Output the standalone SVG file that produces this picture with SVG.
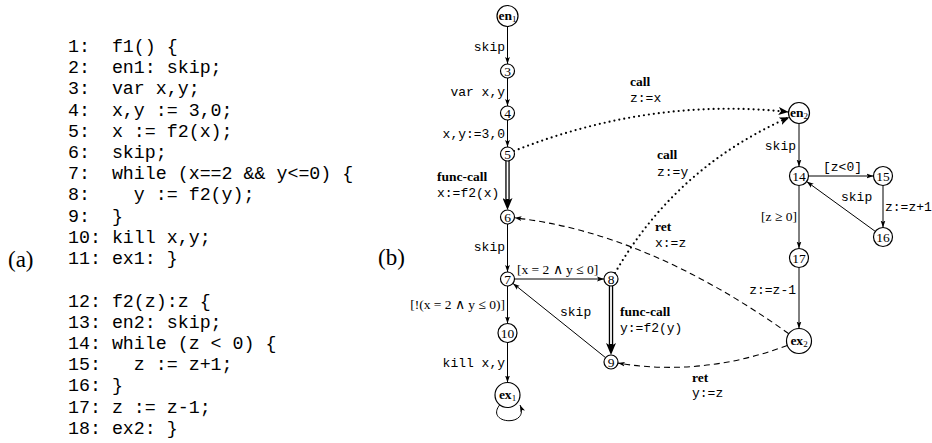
<svg xmlns="http://www.w3.org/2000/svg" width="932" height="443" viewBox="0 0 932 443">
<style>
.code{font-family:"Liberation Mono",monospace;font-size:18.3px;fill:#000;white-space:pre}
.cap{font-family:"Liberation Serif",serif;font-size:23px;fill:#000}
.nd{fill:#fff;stroke:#000;stroke-width:1.2}
.nt{font-family:"Liberation Serif",serif;font-size:13.5px;text-anchor:middle;fill:#000}
.nb{font-weight:bold}
.sub{font-size:9px;font-weight:normal}
.e{fill:none;stroke:#000;stroke-width:1}
.dbl{fill:none;stroke:#000;stroke-width:4.4}
.dblw{fill:none;stroke:#fff;stroke-width:1.8}
.dash{fill:none;stroke:#000;stroke-width:1.1;stroke-dasharray:6 4}
.dot{fill:none;stroke:#000;stroke-width:2.2;stroke-dasharray:0 5;stroke-linecap:round}
.m{font-family:"Liberation Mono",monospace;font-size:13px;fill:#000}
.b{font-family:"Liberation Serif",serif;font-size:13.5px;font-weight:bold;fill:#000}
.s{font-family:"Liberation Serif",serif;font-size:13.5px;fill:#000}
.r{text-anchor:end}
</style>
<defs>
<marker id="a" markerWidth="8" markerHeight="6" refX="7" refY="3" orient="auto" markerUnits="userSpaceOnUse"><path d="M0,0.6 L7,3 L0,5.4 L1.5,3 z" fill="#000"/></marker>
<marker id="A" markerWidth="13" markerHeight="10" refX="4" refY="5" orient="auto" markerUnits="userSpaceOnUse"><path d="M0,0 L12,5 L0,10 L3,5 z" fill="#000"/></marker>
<marker id="M" markerWidth="11" markerHeight="8" refX="10" refY="4" orient="auto" markerUnits="userSpaceOnUse"><path d="M0,0 L10,4 L0,8 L2.5,4 z" fill="#000"/></marker>
</defs>

<g id="code" class="code">
<text xml:space="preserve" x="68" y="52">1:  f1() {</text>
<text xml:space="preserve" x="68" y="73.2">2:  en1: skip;</text>
<text xml:space="preserve" x="68" y="94.4">3:  var x,y;</text>
<text xml:space="preserve" x="68" y="115.6">4:  x,y := 3,0;</text>
<text xml:space="preserve" x="68" y="136.8">5:  x := f2(x);</text>
<text xml:space="preserve" x="68" y="158">6:  skip;</text>
<text xml:space="preserve" x="68" y="179.2">7:  while (x==2 &amp;&amp; y&lt;=0) {</text>
<text xml:space="preserve" x="68" y="200.4">8:    y := f2(y);</text>
<text xml:space="preserve" x="68" y="221.6">9:  }</text>
<text xml:space="preserve" x="68" y="242.8">10: kill x,y;</text>
<text xml:space="preserve" x="68" y="264">11: ex1: }</text>
<text xml:space="preserve" x="68" y="307">12: f2(z):z {</text>
<text xml:space="preserve" x="68" y="328.1">13: en2: skip;</text>
<text xml:space="preserve" x="68" y="349.2">14: while (z &lt; 0) {</text>
<text xml:space="preserve" x="68" y="370.3">15:   z := z+1;</text>
<text xml:space="preserve" x="68" y="391.4">16: }</text>
<text xml:space="preserve" x="68" y="412.5">17: z := z-1;</text>
<text xml:space="preserve" x="68" y="433.6">18: ex2: }</text>
</g>
<text class="cap" x="8" y="267">(a)</text>
<text class="cap" x="378" y="265">(b)</text>

<g id="connectors">
<path class="e" d="M507.5,26.5 L507.5,64" marker-end="url(#a)"/>
<path class="e" d="M507.5,78 L507.5,106" marker-end="url(#a)"/>
<path class="e" d="M507.5,120 L507.5,147" marker-end="url(#a)"/>
<path class="dbl" d="M507.5,161 L507.5,202" marker-end="url(#A)"/>
<path class="dblw" d="M507.5,161 L507.5,199"/>
<path class="e" d="M507.5,224 L507.5,272" marker-end="url(#a)"/>
<path class="e" d="M515,279 L604,279" marker-end="url(#a)"/>
<path class="dbl" d="M611,286 L611,347" marker-end="url(#A)"/>
<path class="dblw" d="M611,286 L611,344"/>
<path class="e" d="M605.5,357.6 L513,283.4" marker-end="url(#a)"/>
<path class="e" d="M507.5,286 L507.5,323.5" marker-end="url(#a)"/>
<path class="e" d="M507.5,342.5 L507.5,382.5" marker-end="url(#a)"/>
<path class="e" d="M500,404.5 C484,424 530,428 520,405" marker-end="url(#a)"/>
<path class="e" d="M799,123.5 L799,166.5" marker-end="url(#a)"/>
<path class="e" d="M808.5,176 L873.5,176" marker-end="url(#a)"/>
<path class="e" d="M883,185.5 L883,227.5" marker-end="url(#a)"/>
<path class="e" d="M875.3,231.4 L806.7,181.6" marker-end="url(#a)"/>
<path class="e" d="M799,185.5 L799,248.5" marker-end="url(#a)"/>
<path class="e" d="M799,267.5 L799,328.5" marker-end="url(#a)"/>
<path class="dot" d="M514,151 Q650,97 788.5,112" marker-end="url(#M)"/>
<path class="dot" d="M615,273 Q676,167 789.4,117.2" marker-end="url(#M)"/>
<path class="dash" d="M788.8,333.7 Q646.5,232.5 514.5,217.8" marker-end="url(#a)"/>
<path class="dash" d="M787.3,345.4 Q703,377 617.9,363.1" marker-end="url(#a)"/>

<text class="m r" x="505" y="50.5">skip</text>
<text class="m r" x="505" y="95.5">var x,y</text>
<text class="m r" x="505" y="138">x,y:=3,0</text>
<text class="b" x="437" y="181">func-call</text>
<text class="m" x="437" y="197">x:=f2(x)</text>
<text class="m r" x="505" y="250.5">skip</text>
<text class="s" x="517" y="274">[x = 2 ∧ y ≤ 0]</text>
<text class="s r" x="505" y="308.5">[!(x = 2 ∧ y ≤ 0)]</text>
<text class="m" x="560" y="315.5">skip</text>
<text class="b" x="620" y="316">func-call</text>
<text class="m" x="620" y="332">y:=f2(y)</text>
<text class="m r" x="505" y="367">kill x,y</text>
<text class="b" x="630" y="86">call</text>
<text class="m" x="630" y="102">z:=x</text>
<text class="b" x="657" y="159">call</text>
<text class="m" x="657" y="175.5">z:=y</text>
<text class="b" x="655" y="231">ret</text>
<text class="m" x="655" y="247">x:=z</text>
<text class="m r" x="796" y="149.5">skip</text>
<text class="m" x="823" y="171">[z&lt;0]</text>
<text class="m" x="841" y="200.5">skip</text>
<text class="m" x="885" y="210.5">z:=z+1</text>
<text class="s r" x="797" y="221">[z ≥ 0]</text>
<text class="m r" x="796" y="294">z:=z-1</text>
<text class="b" x="692" y="381.5">ret</text>
<text class="m" x="692" y="397">y:=z</text>
</g>

<g id="en1"><circle class="nd" cx="507.5" cy="16" r="10.5"/><text class="nt" x="507.5" y="20"><tspan class="nb">en</tspan><tspan class="sub" dy="1.5">1</tspan></text></g>
<g id="n3"><circle class="nd" cx="507.5" cy="71" r="7"/><text class="nt" x="507.5" y="75.5">3</text></g>
<g id="n4"><circle class="nd" cx="507.5" cy="113" r="7"/><text class="nt" x="507.5" y="117.5">4</text></g>
<g id="n5"><circle class="nd" cx="507.5" cy="154" r="7"/><text class="nt" x="507.5" y="158.5">5</text></g>
<g id="n6"><circle class="nd" cx="507.5" cy="217" r="7"/><text class="nt" x="507.5" y="221.5">6</text></g>
<g id="n7"><circle class="nd" cx="507.5" cy="279" r="7"/><text class="nt" x="507.5" y="283.5">7</text></g>
<g id="n8"><circle class="nd" cx="611" cy="279" r="7"/><text class="nt" x="611" y="283.5">8</text></g>
<g id="n9"><circle class="nd" cx="611" cy="362" r="7"/><text class="nt" x="611" y="366.5">9</text></g>
<g id="n10"><circle class="nd" cx="507.5" cy="333" r="9.5"/><text class="nt" x="507.5" y="337.5">10</text></g>
<g id="ex1"><circle class="nd" cx="507.5" cy="395" r="12.5"/><text class="nt" x="507.5" y="399"><tspan class="nb">ex</tspan><tspan class="sub" dy="1.5">1</tspan></text></g>
<g id="en2"><circle class="nd" cx="799" cy="113" r="10.5"/><text class="nt" x="799" y="117"><tspan class="nb">en</tspan><tspan class="sub" dy="1.5">2</tspan></text></g>
<g id="n14"><circle class="nd" cx="799" cy="176" r="9.5"/><text class="nt" x="799" y="180.5">14</text></g>
<g id="n15"><circle class="nd" cx="883" cy="176" r="9.5"/><text class="nt" x="883" y="180.5">15</text></g>
<g id="n16"><circle class="nd" cx="883" cy="237" r="9.5"/><text class="nt" x="883" y="241.5">16</text></g>
<g id="n17"><circle class="nd" cx="799" cy="258" r="9.5"/><text class="nt" x="799" y="262.5">17</text></g>
<g id="ex2"><circle class="nd" cx="799" cy="341" r="12.5"/><text class="nt" x="799" y="345"><tspan class="nb">ex</tspan><tspan class="sub" dy="1.5">2</tspan></text></g>
</svg>
